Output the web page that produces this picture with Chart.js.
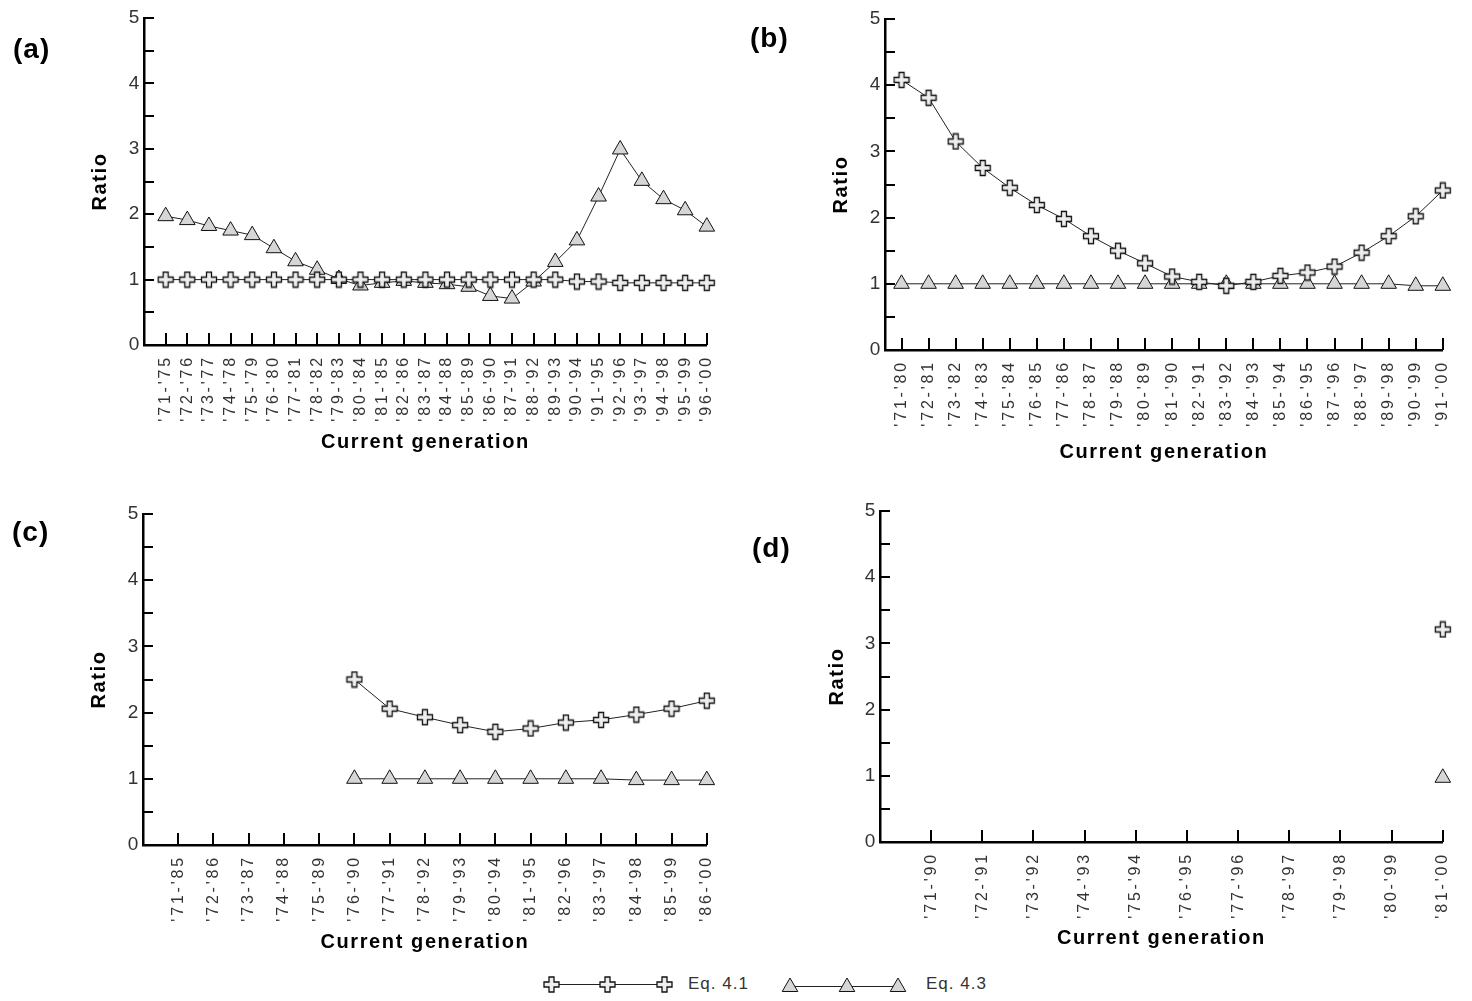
<!DOCTYPE html>
<html><head><meta charset="utf-8">
<script src="https://cdn.jsdelivr.net/npm/chart.js@4.4.1/dist/chart.umd.min.js"></script>
<style>
html,body{margin:0;padding:0;background:#fff;}
#wrap{position:relative;width:1472px;height:1001px;overflow:hidden;background:#fff;}
canvas.p{position:absolute;}
.lab{position:absolute;font-family:'Liberation Sans',Arial,sans-serif;font-weight:bold;font-size:28px;letter-spacing:1px;line-height:32px;color:#000;}
.ltxt{position:absolute;font-family:'Liberation Sans',Arial,sans-serif;font-size:17px;letter-spacing:1px;color:#333;line-height:20px;}
canvas.li{position:absolute;}
</style></head>
<body><div id="wrap">
<canvas id="ca" class="p" width="736" height="470" style="left:0px;top:0px"></canvas>
<canvas id="cb" class="p" width="736" height="470" style="left:736px;top:0px"></canvas>
<canvas id="cc" class="p" width="736" height="470" style="left:0px;top:490px"></canvas>
<canvas id="cd" class="p" width="736" height="470" style="left:736px;top:490px"></canvas>
<div class="lab" style="left:13px;top:33px">(a)</div>
<div class="lab" style="left:750px;top:22px">(b)</div>
<div class="lab" style="left:12px;top:516px">(c)</div>
<div class="lab" style="left:752px;top:532px">(d)</div>
<canvas id="leg1" class="li" width="134" height="22" style="left:542px;top:973px"></canvas>
<div class="ltxt" style="left:688px;top:974px">Eq. 4.1</div>
<canvas id="leg2" class="li" width="134" height="22" style="left:779px;top:973px"></canvas>
<div class="ltxt" style="left:926px;top:974px">Eq. 4.3</div>
</div>
<script>
// ---------- data ----------
const catsA = ["'71-'75","'72-'76","'73-'77","'74-'78","'75-'79","'76-'80","'77-'81","'78-'82","'79-'83","'80-'84","'81-'85","'82-'86","'83-'87","'84-'88","'85-'89","'86-'90","'87-'91","'88-'92","'89-'93","'90-'94","'91-'95","'92-'96","'93-'97","'94-'98","'95-'99","'96-'00"];
const eq41A = [1.00,1.00,1.00,1.00,1.00,1.00,1.00,1.00,1.00,1.00,1.00,1.00,1.00,1.00,1.00,1.00,1.00,1.00,1.00,0.97,0.97,0.95,0.95,0.95,0.95,0.95];
const eq43A = [1.97,1.91,1.82,1.75,1.68,1.48,1.28,1.15,1.01,0.91,0.95,0.98,0.95,0.93,0.89,0.75,0.71,0.97,1.27,1.60,2.27,2.99,2.51,2.23,2.06,1.81];

const catsB = ["'71-'80","'72-'81","'73-'82","'74-'83","'75-'84","'76-'85","'77-'86","'78-'87","'79-'88","'80-'89","'81-'90","'82-'91","'83-'92","'84-'93","'85-'94","'86-'95","'87-'96","'88-'97","'89-'98","'90-'99","'91-'00"];
const eq41B = [4.08,3.81,3.15,2.75,2.45,2.19,1.98,1.72,1.50,1.31,1.11,1.03,0.97,1.03,1.12,1.17,1.26,1.47,1.72,2.02,2.41];
const eq43B = [1.00,1.00,1.00,1.00,1.00,1.00,1.00,1.00,1.00,1.00,1.00,1.00,1.00,1.00,1.00,1.00,1.00,1.00,1.00,0.97,0.97];

const catsC = ["'71-'85","'72-'86","'73-'87","'74-'88","'75-'89","'76-'90","'77-'91","'78-'92","'79-'93","'80-'94","'81-'95","'82-'96","'83-'97","'84-'98","'85-'99","'86-'00"];
const eq41C = [null,null,null,null,null,2.50,2.06,1.93,1.81,1.71,1.76,1.85,1.89,1.97,2.06,2.18];
const eq43C = [null,null,null,null,null,1.00,1.00,1.00,1.00,1.00,1.00,1.00,1.00,0.98,0.98,0.98];

const catsD = ["'71-'90","'72-'91","'73-'92","'74-'93","'75-'94","'76-'95","'77-'96","'78-'97","'79-'98","'80-'99","'81-'00"];
const eq41D = [null,null,null,null,null,null,null,null,null,null,3.21];
const eq43D = [null,null,null,null,null,null,null,null,null,null,0.97];

const yTicks = [0,1,2,3,4,5];
const seriesNames = ['Eq. 4.1','Eq. 4.3'];

// ---------- styling / geometry ----------
const FONT = "'Liberation Sans', Arial, sans-serif";
function drawPlus(g, cx, cy){
  const s=7.5, a=2.5;
  const pts=[[-a,-s],[a,-s],[a,-a],[s,-a],[s,a],[a,a],[a,s],[-a,s],[-a,a],[-s,a],[-s,-a],[-a,-a]];
  g.beginPath();
  pts.forEach((p,i)=>{const X=cx+p[0],Y=cy+p[1]; if(i) g.lineTo(X,Y); else g.moveTo(X,Y);});
  g.closePath();
  g.fillStyle='#eeeeee'; g.fill();
  g.lineWidth=1.3; g.strokeStyle='#111'; g.stroke();
}
function drawTri(g, cx, cy, r){
  g.beginPath();
  let ang=0;
  for(let k=0;k<3;k++){const X=cx+Math.sin(ang)*r, Y=cy-Math.cos(ang)*r; if(k) g.lineTo(X,Y); else g.moveTo(X,Y); ang+=2*Math.PI/3;}
  g.closePath();
  g.fillStyle='#d6d6d6'; g.fill();
  g.lineWidth=1; g.strokeStyle='#111'; g.stroke();
}
const plusImg = document.createElement('canvas');
plusImg.width=18; plusImg.height=18;
drawPlus(plusImg.getContext('2d'), 9, 9);

const innerTicks = {
  id:'innerTicks',
  beforeDraw(chart){ chart.ctx.letterSpacing='1.6px'; },
  beforeDatasetsDraw(chart){
    const {ctx, chartArea, scales:{x,y}} = chart;
    ctx.letterSpacing='0px';
    ctx.save();
    ctx.strokeStyle='#000'; ctx.lineWidth=2;
    ctx.beginPath();
    x.ticks.forEach(t=>{const px=Math.round(x.getPixelForValue(t.value)); ctx.moveTo(px,chartArea.bottom); ctx.lineTo(px,chartArea.bottom-12);});
    y.ticks.forEach(t=>{const py=Math.round(y.getPixelForValue(t.value)); ctx.moveTo(chartArea.left,py); ctx.lineTo(chartArea.left+10,py);});
    ctx.stroke();
    ctx.restore();
  },
  afterDatasetsDraw(chart){ chart.ctx.letterSpacing='2.8px'; },
  afterDraw(chart){ chart.ctx.letterSpacing='0px'; }
};

const panels = [
  {id:'ca', cats:catsA, s1:eq41A, s2:eq43A, W:736, H:470, top:18, bottom:345, left:144, right:721, xMin:0, ratioPad:88, titlePad:16},
  {id:'cb', cats:catsB, s1:eq41B, s2:eq43B, W:736, H:470, top:19, bottom:350, left:149, right:715, xMin:0.39, ratioPad:93, titlePad:6},
  {id:'cc', cats:catsC, s1:eq41C, s2:eq43C, W:736, H:470, top:24, bottom:355, left:143, right:722, xMin:0, ratioPad:87, titlePad:6},
  {id:'cd', cats:catsD, s1:eq41D, s2:eq43D, W:736, H:470, top:21, bottom:352, left:144, right:721, xMin:0, ratioPad:89, titlePad:10}
];

panels.forEach(p=>{
  const cats=p.cats;
  const toPts = vals => cats.map((c,i)=>({x:i+1, y:vals[i]}));
  new Chart(document.getElementById(p.id), {
    type:'line',
    data:{datasets:[
      {label:seriesNames[0], data:toPts(p.s1), borderColor:'#222', borderWidth:1, pointStyle:plusImg, pointRadius:9, tension:0, spanGaps:false, clip:false},
      {label:seriesNames[1], data:toPts(p.s2), borderColor:'#222', borderWidth:1, pointStyle:'triangle', pointRadius:9, pointBackgroundColor:'#d6d6d6', pointBorderColor:'#111', pointBorderWidth:1, tension:0, spanGaps:false, clip:false}
    ]},
    options:{
      responsive:false, animation:false, devicePixelRatio:1,
      layout:{padding:{top:p.top, right:p.W-p.right, left:0, bottom:0}},
      plugins:{legend:{display:false}, tooltip:{enabled:false}},
      scales:{
        x:{type:'linear', min:p.xMin, max:cats.length,
          afterBuildTicks:s=>{ s.ticks = cats.map((c,i)=>({value:i+1})); },
          afterFit:s=>{ s.height = p.H - p.bottom; },
          grid:{display:false, drawTicks:false},
          border:{display:true, color:'#000', width:2.5},
          ticks:{autoSkip:false, minRotation:90, maxRotation:90, padding:10, z:1, color:'#333',
            font:{family:FONT, size:16},
            callback:v=>{const k=Math.round(v)-1; return (k>=0 && k<cats.length)? cats[k] : '';}},
          title:{display:true, text:'Current generation', color:'#000', font:{family:FONT, size:20, weight:'bold'}, padding:{top:0, bottom:p.titlePad}}
        },
        y:{min:0, max:5,
          afterBuildTicks:s=>{ const t=[]; for(let k=0;k<=10;k++) t.push({value:k/2}); s.ticks=t; },
          afterFit:s=>{ s.width = p.left; },
          grid:{display:false, drawTicks:false},
          border:{display:true, color:'#000', width:2.5},
          ticks:{padding:3, color:'#333', font:{family:"'Liberation Sans Narrow', 'Liberation Sans', sans-serif", size:19},
            callback:v=> yTicks.includes(v) ? String(v) : ''},
          title:{display:true, text:'Ratio', color:'#000', font:{family:FONT, size:20, weight:'bold'}, padding:{top:p.ratioPad, bottom:0}}
        }
      }
    },
    plugins:[innerTicks]
  });
});

// legend icons
(function(){
  const g1=document.getElementById('leg1').getContext('2d');
  g1.strokeStyle='#222'; g1.lineWidth=1;
  g1.beginPath(); g1.moveTo(9,11.5); g1.lineTo(122,11.5); g1.stroke();
  [9,65,122].forEach(x=>drawPlus(g1,x+0.5,11.5));
  const g2=document.getElementById('leg2').getContext('2d');
  g2.strokeStyle='#222'; g2.lineWidth=1;
  g2.beginPath(); g2.moveTo(11,13.5); g2.lineTo(119,13.5); g2.stroke();
  [11,68,119].forEach(x=>drawTri(g2,x,14,9));
})();
</script>
</body></html>
